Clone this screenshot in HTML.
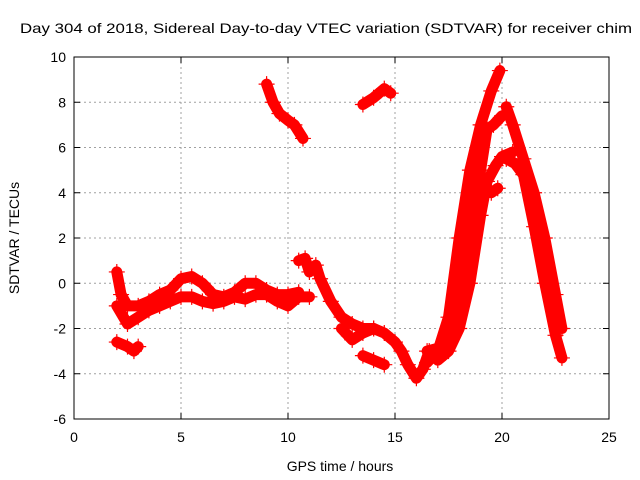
<!DOCTYPE html>
<html><head><meta charset="utf-8"><style>
body{margin:0;background:#fff}
svg{display:block;font-family:"Liberation Sans",sans-serif}
</style></head><body>
<svg id="chart" width="640" height="480">
<rect width="640" height="480" fill="#fff"/>
<text x="20" y="33" font-size="14" textLength="612" lengthAdjust="spacingAndGlyphs">Day 304 of 2018, Sidereal Day-to-day VTEC variation (SDTVAR) for receiver chim</text>
<g id="grid"></g><g id="axes"></g><g id="marks"></g>
<text x="340" y="471" font-size="14" text-anchor="middle">GPS time / hours</text>
<text transform="translate(19,238) rotate(-90)" font-size="14" text-anchor="middle">SDTVAR / TECUs</text>
</svg>
<script>
const xTicks=[0,5,10,15,20,25];
const yTicks=[-6,-4,-2,0,2,4,6,8,10];
const traceA=[[2.0,0.5],[2.2,-0.5],[2.5,-1.0],[3,-1.0],[3.5,-0.8],[4,-0.5],[4.5,-0.3],[5,0.2],[5.5,0.3],[6,0.0],[6.5,-0.5],[7,-0.6],[7.5,-0.4],[8,0.0],[8.5,0.0],[9,-0.3],[9.5,-0.5],[10,-0.5],[10.5,-0.4]];
const traceB=[[2.0,-1.0],[2.5,-1.8],[3,-1.5],[3.5,-1.2],[4,-1.0],[4.5,-0.8],[5,-0.6],[5.5,-0.6],[6,-0.8],[6.5,-0.9],[7,-0.8],[7.5,-0.6],[8,-0.7],[8.5,-0.5],[9,-0.5],[9.5,-0.8],[10,-1.0],[10.5,-0.6],[11,-0.6]];
const traceC=[[2,-2.6],[2.5,-2.8],[2.8,-3.0],[3,-2.8]];
const traceD=[[10.5,1.0],[10.8,1.1],[11,0.5],[11.3,0.8],[11.5,0.2],[12,-0.8],[12.5,-1.5],[13,-1.8],[13.5,-2.0],[14,-2.0],[14.5,-2.2],[15,-2.6],[15.3,-3.0],[15.6,-3.6],[16,-4.2],[16.3,-3.8],[16.6,-3.0]];
const traceE=[[12.5,-2.0],[13,-2.5],[13.5,-2.2],[14,-2.0]];
const traceF=[[13.5,-3.2],[14,-3.4],[14.5,-3.6]];
const traceG=[[16.5,-3.5],[17,-3.0],[17.5,-1.5],[18,2.0],[18.5,5.0],[19,7.0],[19.5,8.5],[19.9,9.4]];
const traceH=[[16.5,-3.0],[17.3,-2.8],[18,-1.0],[18.5,2.0],[19,5.0],[19.3,6.8],[19.6,7.0],[20,7.4]];
const traceI=[[17,-3.4],[17.5,-3.0],[18,-2.0],[18.5,0],[19,3.0],[19.3,4.5],[19.7,5.2],[20,5.6],[20.5,5.8]];
const traceJ=[[19.5,4.0],[19.8,4.2]];
const traceK=[[20.2,7.8],[20.5,7.0],[21,5.5],[21.5,4.0],[22,2.0],[22.5,-0.5],[22.8,-2.0]];
const traceL=[[20.2,5.5],[20.6,5.3],[21,4.8],[21.5,2.5],[22,0],[22.5,-2.3],[22.8,-3.3]];
const traceM=[[9,8.8],[9.3,8.0],[9.6,7.5],[10,7.2],[10.3,7.0],[10.7,6.4]];
const traceN=[[13.5,7.9],[14,8.2],[14.5,8.6],[14.8,8.4]];
const traces=[traceA,traceB,traceC,traceD,traceE,traceF,traceG,traceH,traceI,traceJ,traceK,traceL,traceM,traceN];

const X0=74,X1=609,Y0=419,Y1=57;
const sx=v=>X0+(v-0)/25*(X1-X0);
const sy=v=>Y0-(v+6)/16*(Y0-Y1);
const NS="http://www.w3.org/2000/svg";
const grid=document.getElementById('grid'),axes=document.getElementById('axes'),marks=document.getElementById('marks');
function mk(tag,attrs,parent){const e=document.createElementNS(NS,tag);for(const k in attrs)e.setAttribute(k,attrs[k]);parent.appendChild(e);return e;}
xTicks.forEach(t=>{
  const x=sx(t);
  if(t>0&&t<25){const g=mk('line',{x1:x,x2:x,y1:Y1,y2:Y0,stroke:'#a0a0a0','stroke-dasharray':'2,3'},grid);
  
  }
  mk('line',{x1:x,x2:x,y1:Y0,y2:Y0-6,stroke:'#000'},axes);
  mk('line',{x1:x,x2:x,y1:Y1,y2:Y1+6,stroke:'#000'},axes);
  const l=mk('text',{x:x,y:Y0+23,'font-size':14,'text-anchor':'middle'},axes);l.textContent=t;
  
  
});
yTicks.forEach(t=>{
  const y=sy(t);
  if(t>-6&&t<10){const g=mk('line',{x1:X0,x2:X1,y1:y,y2:y,stroke:'#a0a0a0','stroke-dasharray':'2,3'},grid);
  
  }
  mk('line',{x1:X0,x2:X0+6,y1:y,y2:y,stroke:'#000'},axes);
  mk('line',{x1:X1,x2:X1-6,y1:y,y2:y,stroke:'#000'},axes);
  const l=mk('text',{x:X0-8,y:y+5,'font-size':14,'text-anchor':'end'},axes);l.textContent=t;
  
  
});
const fr=mk('rect',{x:X0,y:Y1,width:X1-X0,height:Y0-Y1,fill:'none',stroke:'#000'},axes);


traces.forEach(tr=>{
  const p=mk('polyline',{points:tr.map(d=>sx(d[0])+','+sy(d[1])).join(' '),fill:'none',stroke:'#ff0000','stroke-width':11,'stroke-linejoin':'round','stroke-linecap':'round'},marks);
  
  
  tr.forEach(d=>{
    const x=sx(d[0]),y=sy(d[1]);
    const m=mk('path',{d:`M${x-8},${y}H${x+8}M${x},${y-8}V${y+8}`,stroke:'#ff0000','stroke-width':1.2},marks);
    
    
  });
});
</script>
</body></html>
